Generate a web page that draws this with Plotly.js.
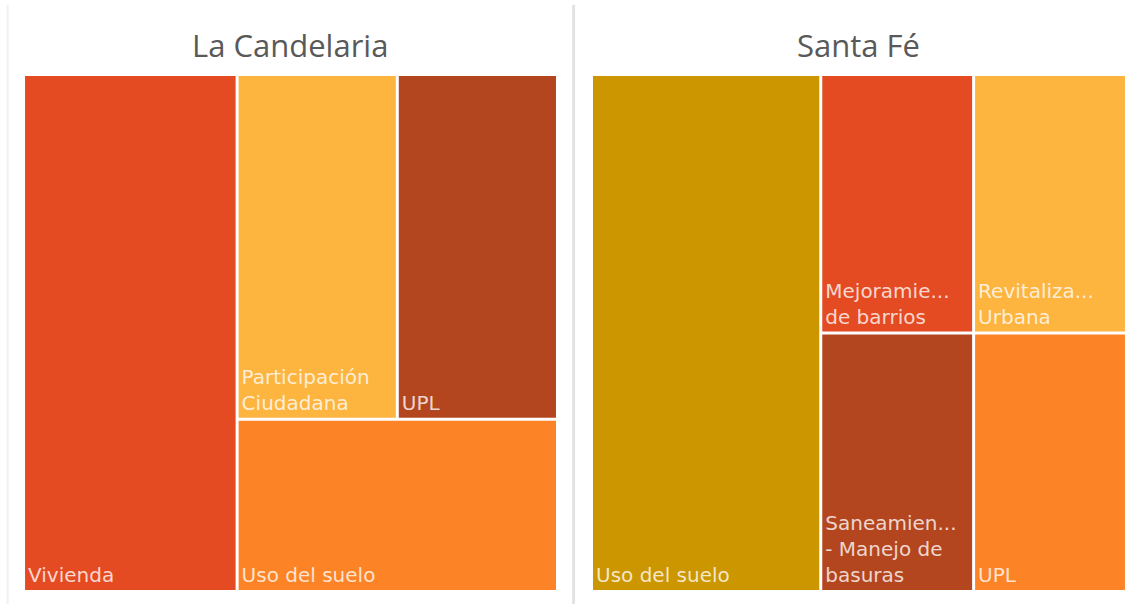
<!DOCTYPE html>
<html>
<head>
<meta charset="utf-8">
<script src="https://cdn.plot.ly/plotly-3.0.1.min.js"></script>
<style>html,body{margin:0;padding:0;background:#fff;}#chart{width:1128px;height:604px;}</style>
</head>
<body>
<div id="chart"></div>
<script>
// ---- Data: La Candelaria ----
const leftTitle = "La Candelaria";
const leftCategories = ["Vivienda", "Participación Ciudadana", "UPL", "Uso del suelo"];
const leftValues = [2, 1, 1, 1];
const leftLabels = ["Vivienda", "Participación<br>Ciudadana", "UPL", "Uso del suelo"];

// ---- Data: Santa Fé ----
const rightTitle = "Santa Fé";
const rightCategories = ["Uso del suelo", "Mejoramiento de barrios", "Revitalización Urbana", "Saneamiento - Manejo de basuras", "UPL"];
const rightValues = [3, 1, 1, 1, 1];
const rightLabels = ["Uso del suelo", "Mejoramie...<br>de barrios", "Revitaliza...<br>Urbana", "Saneamien...<br>- Manejo de<br>basuras", "UPL"];

// ---- Styles ----
const leftColors = ["#E54B22", "#FDB53F", "#B4461F", "#FC8426"];
const rightColors = ["#CC9600", "#E54B22", "#FDB53F", "#B4461F", "#FC8426"];

// Layout groups (tiling structure): group id -> parent id
const leftGroups = [["L", ""], ["L1", "L"], ["L2", "L1"]];
const leftParents = ["L", "L2", "L2", "L1"];
const rightGroups = [["R", ""], ["R1", "R"], ["R2", "R1"], ["R3", "R1"]];
const rightParents = ["R", "R2", "R2", "R3", "R3"];

function buildTrace(groups, cats, parents, values, labels, colors, prefix, domainX) {
  const ids = [], par = [], vals = [], txt = [], cols = [], labs = [];
  const order = [];
  order.push({g: groups[0]});
  const added = new Set([groups[0][0]]);
  function addGroupIfNeeded(gid) {
    if (added.has(gid)) return;
    const g = groups.find(x => x[0] === gid);
    addGroupIfNeeded(g[1]);
    order.push({g: g});
    added.add(gid);
  }
  cats.forEach((c, i) => {
    addGroupIfNeeded(parents[i]);
    order.push({leaf: i});
  });
  order.forEach(o => {
    if (o.g) {
      ids.push(o.g[0]); par.push(o.g[1]); vals.push(0); txt.push(""); cols.push("#ffffff"); labs.push("");
    } else {
      const i = o.leaf;
      ids.push(prefix + cats[i]); par.push(parents[i]); vals.push(values[i]);
      txt.push(labels[i]); cols.push(colors[i]); labs.push(cats[i]);
    }
  });
  return {
    type: "treemap",
    ids: ids, parents: par, values: vals, labels: labs, text: txt,
    texttemplate: "%{text}",
    textposition: "bottom left",
    sort: false,
    branchvalues: "remainder",
    tiling: {packing: "slice-dice", pad: 3},
    marker: {colors: cols, pad: {t: 0, l: 0, r: 0, b: 0}, line: {width: 0}},
    pathbar: {visible: false},
    textfont: {family: "DejaVu Sans", size: 20, color: "rgba(255,255,255,0.78)"},
    hoverinfo: "label+value",
    domain: {x: domainX, y: [0.0232, 0.874]}
  };
}

const traces = [
  buildTrace(leftGroups, leftCategories, leftParents, leftValues, leftLabels, leftColors, "L:", [0.0222, 0.4929]),
  buildTrace(rightGroups, rightCategories, rightParents, rightValues, rightLabels, rightColors, "R:", [0.5257, 0.9973])
];

const layout = {
  width: 1128, height: 604,
  margin: {l: 0, r: 0, t: 0, b: 0},
  paper_bgcolor: "#ffffff",
  showlegend: false,
  font: {family: "Open Sans"},
  annotations: [
    {text: leftTitle, x: 0.2575, y: 0.926, xref: "paper", yref: "paper", xanchor: "center", yanchor: "middle", showarrow: false,
     font: {family: "Open Sans", size: 31, color: "#595959"}},
    {text: rightTitle, x: 0.7615, y: 0.926, xref: "paper", yref: "paper", xanchor: "center", yanchor: "middle", showarrow: false,
     font: {family: "Open Sans", size: 31, color: "#595959"}}
  ],
  shapes: [
    {type: "line", xref: "paper", yref: "paper", x0: 0.5085, x1: 0.5085, y0: 0, y1: 0.992, line: {color: "#e3e3e3", width: 3}},
    {type: "line", xref: "paper", yref: "paper", x0: 0.0068, x1: 0.0068, y0: 0, y1: 0.992, line: {color: "#f0f0f0", width: 2}}
  ]
};

Plotly.newPlot("chart", traces, layout, {displayModeBar: false, staticPlot: true});
</script>
</body>
</html>
